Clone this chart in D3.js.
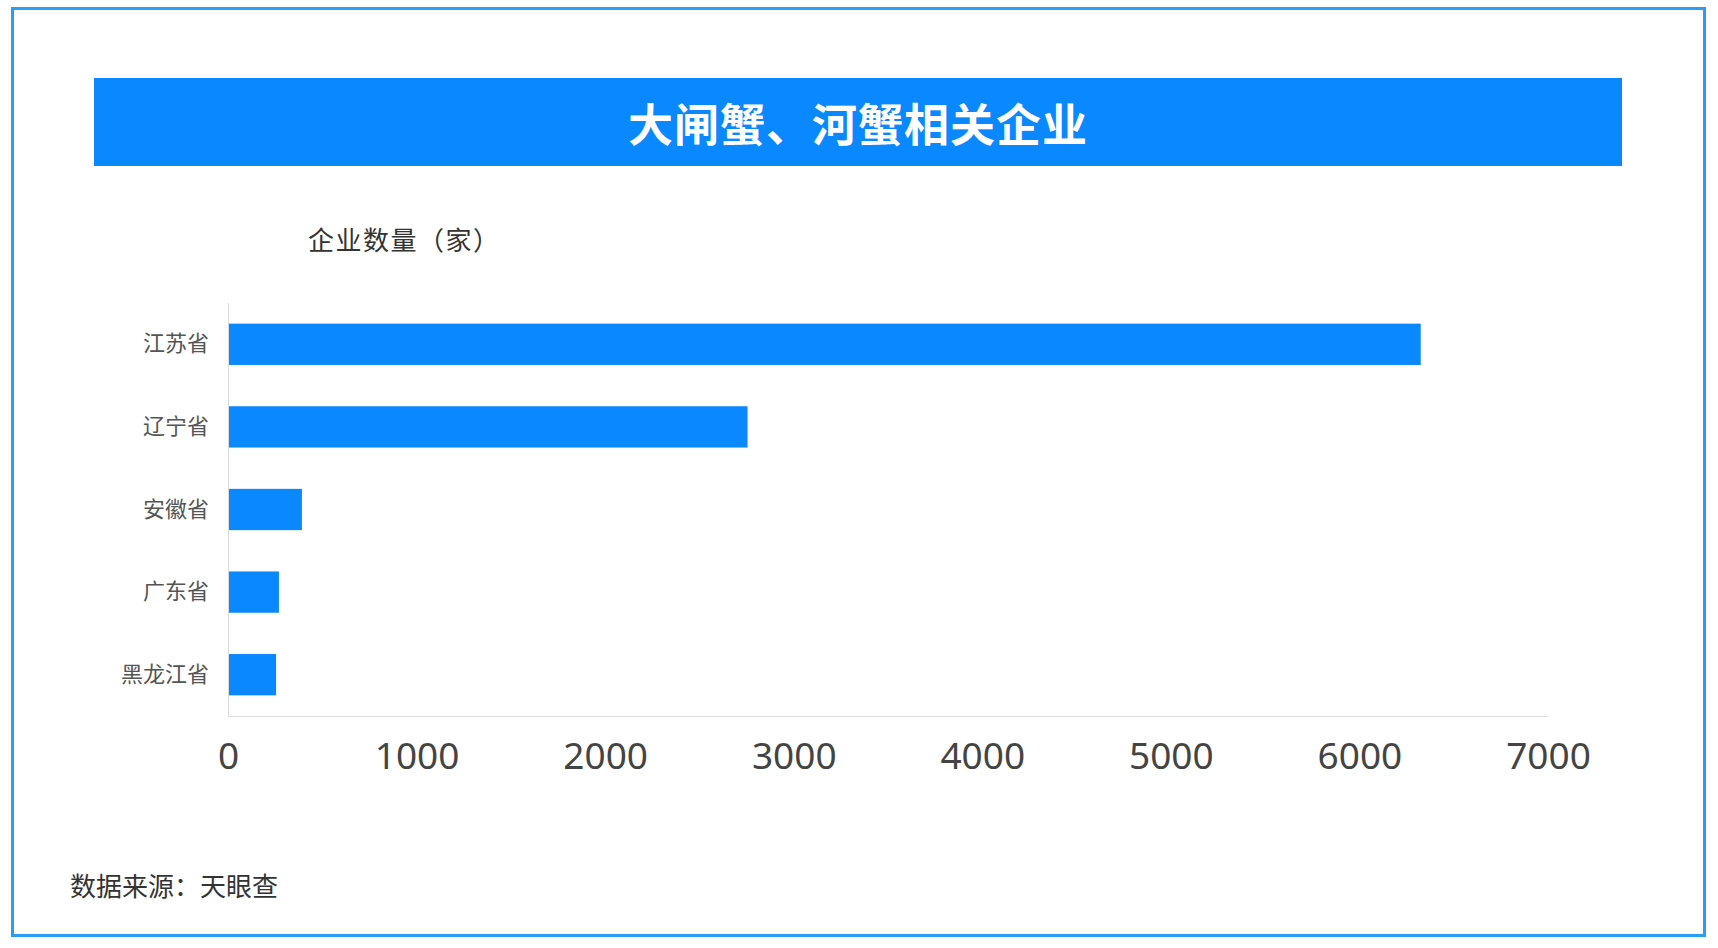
<!DOCTYPE html>
<html>
<head>
<meta charset="utf-8">
<script src="https://cdn.jsdelivr.net/npm/d3@7"></script>
<style>
  html, body { margin: 0; padding: 0; background: #fff; }
  svg { display: block; }
</style>
</head>
<body>
<svg id="chart" width="1718" height="948"></svg>
<script>
const titleText = "大闸蟹、河蟹相关企业";
const axisTitle = "企业数量（家）";
const sourceText = "数据来源：天眼查";
const provinces = ["江苏省", "辽宁省", "安徽省", "广东省", "黑龙江省"];
const companyCounts = [6325, 2755, 392, 270, 255];
const xTicks = [0, 1000, 2000, 3000, 4000, 5000, 6000, 7000];

(function () {
const svg = d3.select("#chart");
const cjk = "'Noto Sans CJK SC', 'Noto Sans', sans-serif";

// outer frame
svg.append("rect")
  .attr("x", 12.5).attr("y", 8.5).attr("width", 1692).attr("height", 927)
  .attr("fill", "#fff").attr("stroke", "#2a9df4").attr("stroke-width", 3);

// title bar
svg.append("rect")
  .attr("x", 94).attr("y", 78).attr("width", 1528).attr("height", 88)
  .attr("fill", "#0a88ff");
svg.append("text")
  .attr("x", 858).attr("y", 122)
  .attr("text-anchor", "middle").attr("dominant-baseline", "central")
  .attr("font-family", cjk).attr("font-weight", "bold")
  .attr("font-size", 45).attr("letter-spacing", 1)
  .attr("fill", "#fff").text(titleText);

// axis title
svg.append("text")
  .attr("x", 308).attr("y", 238)
  .attr("dominant-baseline", "central")
  .attr("font-family", cjk).attr("font-size", 26).attr("letter-spacing", 1.5)
  .attr("fill", "#333").text(axisTitle);

// scales
const pl = 228, pr = 1548, pt = 303, pb = 716;
const x = d3.scaleLinear().domain([0, 7000]).range([pl, pr]);
const y = d3.scaleBand().domain(provinces).range([pt, pb]).paddingInner(0.5).paddingOuter(0.25);

// bars
svg.append("g").selectAll("rect")
  .data(provinces.map((p, i) => ({ p, v: companyCounts[i] })))
  .join("rect")
  .attr("x", x(0))
  .attr("y", d => y(d.p))
  .attr("width", d => x(d.v) - x(0))
  .attr("height", y.bandwidth())
  .attr("fill", "#0a88ff");

// y axis
const yAxis = svg.append("g")
  .attr("transform", `translate(${pl},0)`)
  .call(d3.axisLeft(y).tickSize(0).tickPadding(19));
yAxis.select(".domain").attr("stroke", "#dcdcdc").attr("d", `M0.5,${pt}V${pb}`);
yAxis.selectAll("text")
  .attr("font-family", cjk).attr("font-size", 22).attr("fill", "#555");

// x axis
const xAxis = svg.append("g")
  .attr("transform", `translate(0,${pb})`)
  .call(d3.axisBottom(x).tickValues(xTicks).tickFormat(d3.format("d")).tickSize(0).tickPadding(27));
xAxis.select(".domain").attr("stroke", "#dcdcdc").attr("d", `M${pl},0.5H${pr}`);
xAxis.selectAll("text")
  .attr("font-family", "'Noto Sans', 'Open Sans', sans-serif")
  .attr("font-size", 37).attr("fill", "#444");

// source
svg.append("text")
  .attr("x", 70).attr("y", 884)
  .attr("dominant-baseline", "central")
  .attr("font-family", cjk).attr("font-size", 26)
  .attr("fill", "#333").text(sourceText);
})();
</script>
</body>
</html>
